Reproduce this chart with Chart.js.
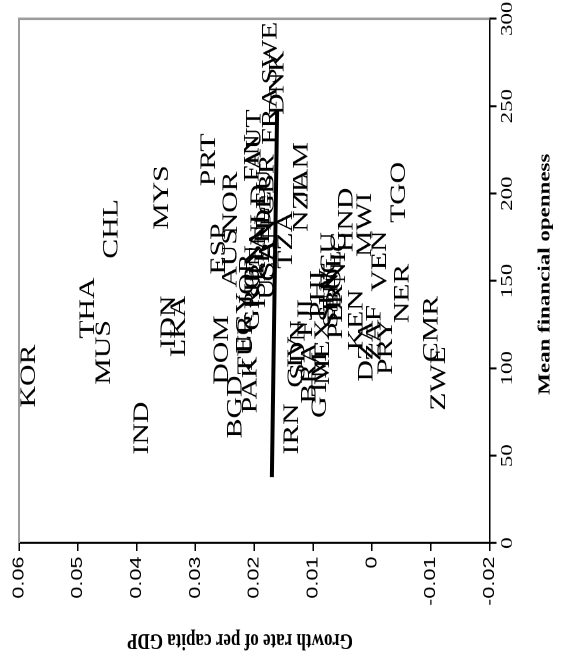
<!DOCTYPE html>
<html>
<head>
<meta charset="utf-8">
<script src="https://cdn.jsdelivr.net/npm/chart.js@4.4.1/dist/chart.umd.min.js"></script>
<style>
    html, body { margin: 0; padding: 0; background: #fff; overflow: hidden; }
    #wrap { position: relative; width: 561px; height: 666px; overflow: hidden; }
    /* chart is drawn upright, then turned a quarter left and stretched like the scan */
    #chart { position: absolute; left: 0; top: 0; transform-origin: 0 0;
             transform: translateY(666px) scaleY(1.351) rotate(-90deg); }
</style>
</head>
<body>
<div id="wrap"><canvas id="chart" width="493" height="561"></canvas></div>
<script>
const countries = ['KOR', 'THA', 'MUS', 'CHL', 'MYS', 'IND', 'IDN', 'LKA', 'PRT', 'NOR',
    'ESP', 'AUS', 'DOM', 'BGD', 'PAK', 'TUR', 'EGY', 'GRC', 'JOR', 'FIN',
    'AUT', 'FRA', 'SWE', 'DNK', 'DEU', 'GBR', 'NLD', 'BEL', 'ITA', 'CAN',
    'USA', 'JPN', 'ISR', 'NZL', 'JAM', 'TZA', 'IRN', 'CIV', 'SDN', 'FJI',
    'BRA', 'GTM', 'MEX', 'PHL', 'PER', 'ECU', 'BOL', 'SLV', 'NIC', 'SEN',
    'HND', 'MWI', 'KEN', 'DZA', 'ZAF', 'PRY', 'VEN', 'NER', 'TGO', 'CMR', 'ZWE'];
const openness = [95.6, 134.5, 109.1, 179.8, 197.8, 65.8, 126.5, 124.0, 219.3, 194.7,
    168.3, 163.2, 110.5, 77.9, 90.5, 113.4, 126.0, 139.1, 150.6, 220.4,
    230.7, 244.5, 280.5, 263.4, 196.4, 205.0, 187.8, 176.3, 166.6, 167.7,
    156.3, 156.3, 147.7, 194.7, 212.4, 173.5, 65.3, 103.6, 110.5, 128.8,
    97.3, 90.5, 109.3, 144.8, 132.3, 160.9, 150.6, 142.0, 163.2, 139.1,
    184.9, 182.1, 127.7, 109.9, 120.2, 112.2, 161.4, 142.8, 200.7, 122.5, 94.2];
const growth = [0.0585, 0.0485, 0.0458, 0.0445, 0.0359, 0.0393, 0.0347, 0.0330, 0.0279, 0.0242,
    0.0262, 0.0243, 0.0257, 0.0234, 0.0209, 0.0216, 0.0219, 0.0204, 0.0214, 0.0205,
    0.0202, 0.0175, 0.0175, 0.0163, 0.0185, 0.0180, 0.0194, 0.0187, 0.0197, 0.0177,
    0.0180, 0.0204, 0.0194, 0.0122, 0.0122, 0.0148, 0.0138, 0.0131, 0.0127, 0.0114,
    0.0108, 0.0090, 0.0085, 0.0093, 0.0063, 0.0075, 0.0066, 0.0078, 0.0058, 0.0071,
    0.0045, 0.0014, 0.0028, 0.0011, -0.0002, -0.0022, -0.0012, -0.0050, -0.0044, -0.0099, -0.0112];

// fitted line, the two ends
const fitOpenness = [37.8, 247.9];
const fitGrowth = [0.0170, 0.0161];

const opennessTicks = [0, 50, 100, 150, 200, 250, 300];
const growthTicks = [-0.02, -0.01, 0, 0.01, 0.02, 0.03, 0.04, 0.05, 0.06];
const growthLabels = ['-0.02', '-0.01', '0', '0.01', '0.02', '0.03', '0.04', '0.05', '0.06'];

const xTitle = 'Mean financial openness';
const yTitle = 'Growth rate of per capita GDP';

const serif = '"Liberation Serif", "Times New Roman", serif';

const labelsPlugin = {
    id: 'countryLabels',
    beforeDatasetsDraw(chart) {
        const ctx = chart.ctx;
        const a = chart.chartArea;
        const xs = chart.scales.x;
        const ys = chart.scales.y;
        ctx.save();
        // grey frame on the two open sides
        ctx.strokeStyle = '#9c9c9c';
        ctx.lineWidth = 2;
        ctx.beginPath();
        ctx.moveTo(a.left, a.top);
        ctx.lineTo(a.right, a.top);
        ctx.lineTo(a.right, a.bottom);
        ctx.stroke();

        ctx.fillStyle = '#000';
        ctx.font = '22px ' + serif;
        ctx.textAlign = 'center';
        ctx.textBaseline = 'alphabetic';
        for (let i = 0; i < countries.length; i++) {
            const px = xs.getPixelForValue(openness[i]);
            const py = ys.getPixelForValue(growth[i]);
            ctx.fillText(countries[i], px, py + 7.3);
        }

        // axis titles
        ctx.font = 'bold 17px ' + serif;
        ctx.textBaseline = 'middle';
        ctx.fillText(xTitle, 290, 545);
        ctx.translate(19, 240);
        ctx.rotate(-Math.PI / 2);
        ctx.fillText(yTitle, 0, 0);
        ctx.restore();
    }
};

window.onload = () => {
    const ctx = document.getElementById('chart').getContext('2d');
    new Chart(ctx, {
        type: 'scatter',
        data: {
            datasets: [
                {
                    label: 'countries',
                    data: countries.map((c, i) => ({x: openness[i], y: growth[i]})),
                    pointRadius: 0,
                    pointHoverRadius: 0
                },
                {
                    label: 'fit',
                    data: fitOpenness.map((v, i) => ({x: v, y: fitGrowth[i]})),
                    showLine: true,
                    borderColor: '#000',
                    borderWidth: 4,
                    pointRadius: 0
                }
            ]
        },
        options: {
            responsive: false,
            animation: false,
            devicePixelRatio: 2,
            layout: {padding: {top: 19, right: 14, left: 0, bottom: 0}},
            plugins: {legend: {display: false}, tooltip: {enabled: false}},
            scales: {
                x: {
                    type: 'linear',
                    min: 0,
                    max: 300,
                    afterBuildTicks: s => { s.ticks = opennessTicks.map(v => ({value: v})); },
                    afterFit: s => { s.height = 71.5; },
                    ticks: {
                        color: '#000',
                        padding: 1,
                        maxRotation: 0,
                        font: {family: serif, size: 17}
                    },
                    grid: {drawOnChartArea: false, drawTicks: true, tickLength: 7, color: '#000', lineWidth: 1.5},
                    border: {display: true, color: '#000', width: 1.5}
                },
                y: {
                    type: 'linear',
                    min: -0.02,
                    max: 0.06,
                    afterBuildTicks: s => { s.ticks = growthTicks.map(v => ({value: v})); },
                    afterFit: s => { s.width = 91; },
                    ticks: {
                        color: '#000',
                        padding: 4,
                        font: {family: '"Liberation Sans", Arial, sans-serif', size: 16},
                        callback: (v, i) => growthLabels[i]
                    },
                    grid: {drawOnChartArea: false, drawTicks: true, tickLength: 6, color: '#000', lineWidth: 1.5},
                    border: {display: true, color: '#000', width: 1.5}
                }
            }
        },
        plugins: [labelsPlugin]
    });
}
</script>
</body>
</html>
